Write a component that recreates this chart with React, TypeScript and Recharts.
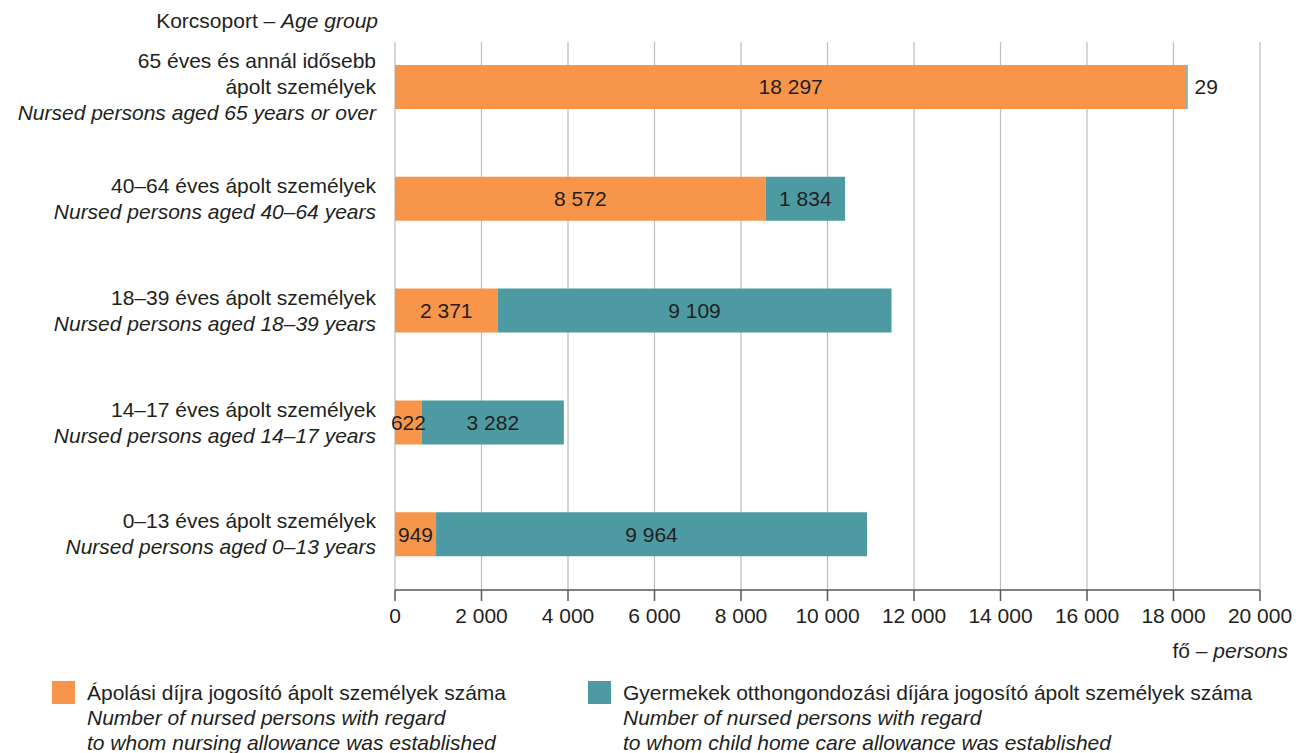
import { Bar, BarChart, CartesianGrid, LabelList, XAxis, YAxis } from 'recharts'

const ageGroupsHu = [
  ['65 éves és annál idősebb', 'ápolt személyek'],
  ['40–64 éves ápolt személyek'],
  ['18–39 éves ápolt személyek'],
  ['14–17 éves ápolt személyek'],
  ['0–13 éves ápolt személyek'],
]
const ageGroupsEn = [
  'Nursed persons aged 65 years or over',
  'Nursed persons aged 40–64 years',
  'Nursed persons aged 18–39 years',
  'Nursed persons aged 14–17 years',
  'Nursed persons aged 0–13 years',
]
const nursingAllowance = [18297, 8572, 2371, 622, 949]
const childHomeCare = [29, 1834, 9109, 3282, 9964]
const xTicks = [0, 2000, 4000, 6000, 8000, 10000, 12000, 14000, 16000, 18000, 20000]

const ORANGE = '#F7964A'
const TEAL = '#4D9AA3'
const TEXT = '#231F20'
const FONT = '"Liberation Sans", Arial, sans-serif'
const FS = 21

const data = ageGroupsEn.map((en, i) => ({
  id: String(i),
  nursing: nursingAllowance[i],
  childCare: childHomeCare[i],
}))

const fmt = (v: number) => String(v).replace(/\B(?=(\d{3})+(?!\d))/g, ' ')

function AgeTick(props: any) {
  const { y, payload } = props
  const i = Number(payload.value)
  const lines = [...ageGroupsHu[i].map((t) => ({ t, it: false })), { t: ageGroupsEn[i], it: true }]
  const start = -((lines.length - 1) / 2) * 26
  return (
    <g>
      {lines.map((l, k) => (
        <text
          key={k}
          x={395 - 19}
          y={y + start + k * 26}
          dy="0.35em"
          textAnchor="end"
          fontSize={FS}
          fontFamily={FONT}
          fontStyle={l.it ? 'italic' : 'normal'}
          fill={TEXT}
        >
          {l.t}
        </text>
      ))}
    </g>
  )
}

function SegmentLabel(props: any) {
  const { x, y, width, height, value } = props
  const outside = width < 20
  return (
    <text
      x={outside ? x + width + 7 : x + width / 2}
      y={y + height / 2}
      dy="0.35em"
      textAnchor={outside ? 'start' : 'middle'}
      fontSize={FS}
      fontFamily={FONT}
      fill={TEXT}
    >
      {fmt(value)}
    </text>
  )
}

function GridLine(props: any) {
  const { x1, y1, x2, y2 } = props
  return <line key={props.key} x1={x1} y1={y1 + 11} x2={x2} y2={y2} stroke="#BDBDBD" strokeWidth={1.2} />
}

const legendItems = [
  {
    color: ORANGE,
    hu: 'Ápolási díjra jogosító ápolt személyek száma',
    en: ['Number of nursed persons with regard', 'to whom nursing allowance was established'],
    left: 52,
  },
  {
    color: TEAL,
    hu: 'Gyermekek otthongondozási díjára jogosító ápolt személyek száma',
    en: ['Number of nursed persons with regard', 'to whom child home care allowance was established'],
    left: 588,
  },
]

function ChartLegend() {
  return (
    <div style={{ position: 'absolute', left: 0, top: 680, width: 1296, height: 73, fontFamily: FONT, fontSize: FS, color: TEXT }}>
      {legendItems.map((it) => (
        <div key={it.hu} style={{ position: 'absolute', left: it.left, top: 0, display: 'flex' }}>
          <div style={{ width: 23, height: 23, background: it.color, marginTop: 1, marginRight: 12, flex: 'none' }} />
          <div style={{ lineHeight: '25px', whiteSpace: 'nowrap' }}>
            <div>{it.hu}</div>
            {it.en.map((e) => (
              <div key={e} style={{ fontStyle: 'italic' }}>
                {e}
              </div>
            ))}
          </div>
        </div>
      ))}
    </div>
  )
}

export default function App() {
  return (
    <div style={{ position: 'absolute', left: 0, top: 0, width: 1296, height: 753, background: '#fff', overflow: 'hidden' }}>
      <div
        style={{
          position: 'absolute',
          right: 1296 - 378,
          top: 9,
          fontFamily: FONT,
          fontSize: FS,
          color: TEXT,
          whiteSpace: 'nowrap',
        }}
      >
        Korcsoport – <i>Age group</i>
      </div>
      <BarChart
        width={1296}
        height={753}
        data={data}
        layout="vertical"
        margin={{ top: 31, right: 36, left: 0, bottom: 123 }}
        barCategoryGap={0}
      >
        <CartesianGrid horizontal={false} vertical={GridLine as any} />
        <XAxis
          type="number"
          domain={[0, 20000]}
          ticks={xTicks}
          interval={0}
          tickFormatter={fmt}
          height={40}
          tickSize={11}
          tickMargin={7}
          axisLine={{ stroke: '#595959', strokeWidth: 1.5 }}
          tickLine={{ stroke: '#595959', strokeWidth: 1.5 }}
          tick={{ fill: TEXT, fontSize: FS, fontFamily: FONT }}
        />
        <YAxis type="category" dataKey="id" width={395} axisLine={false} tickLine={false} tick={<AgeTick />} />
        <Bar dataKey="nursing" stackId="a" fill={ORANGE} barSize={44} isAnimationActive={false}>
          <LabelList dataKey="nursing" content={<SegmentLabel />} />
        </Bar>
        <Bar dataKey="childCare" stackId="a" fill={TEAL} barSize={44} isAnimationActive={false}>
          <LabelList dataKey="childCare" content={<SegmentLabel />} />
        </Bar>
      </BarChart>
      <div
        style={{
          position: 'absolute',
          right: 8,
          top: 639,
          fontFamily: FONT,
          fontSize: FS,
          color: TEXT,
          whiteSpace: 'nowrap',
        }}
      >
        fő – <i>persons</i>
      </div>
      <ChartLegend />
    </div>
  )
}
